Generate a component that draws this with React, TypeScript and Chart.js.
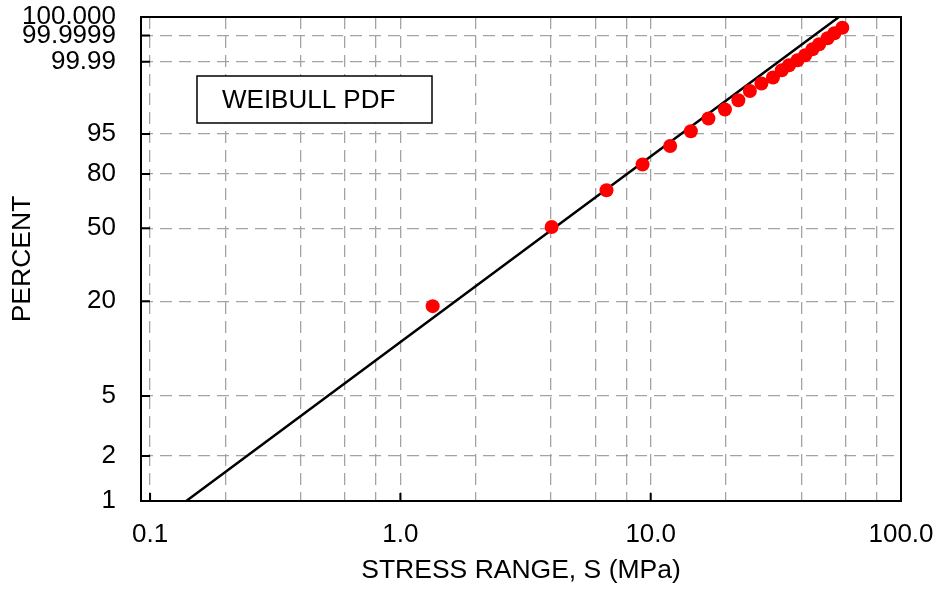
import React, { useEffect, useRef } from 'react';
import { Chart, registerables } from 'chart.js';

Chart.register(...registerables);

// Observed data (stress range in MPa, cumulative percent)
const stressRange = [1.346, 4.02, 6.66, 9.28, 11.96, 14.47, 17.01, 19.8, 22.4, 24.9, 27.7, 30.8, 33.4, 35.7, 38.6, 41.4, 44.3, 47.1, 50.9, 54.2, 58.3];
const cumulativePercent = [18.7, 50.7, 71.4, 84.5, 91.7, 95.6, 97.78, 98.747, 99.365, 99.711, 99.858, 99.925, 99.9684, 99.9835, 99.9918, 99.9962, 99.99859, 99.99943, 99.999824, 99.99994, 99.999983];

// Fitted Weibull line (read endpoints)
const fitStress = [0.1395, 4.1, 56.5];
const fitPercent = [1, 50, 99.999999];

// Axis ticks
const yTickPercent = [1, 2, 5, 20, 50, 80, 95, 99.99, 99.9999, 99.999999];
const yTickLabels = ['1', '2', '5', '20', '50', '80', '95', '99.99', '99.9999', '100.000'];
const xGridValues = [0.1, 0.2, 0.4, 0.6, 0.8, 1, 2, 4, 6, 8, 10, 20, 40, 60, 80, 100];
const xMajorValues = [0.1, 1, 10, 100];
const xMajorLabels = ['0.1', '1.0', '10.0', '100.0'];
const xMin = 0.092;
const xMax = 100;

const legendText = 'WEIBULL PDF';
const xTitle = 'STRESS RANGE, S (MPa)';
const yTitle = 'PERCENT';

const FONT = '"Liberation Sans", Arial, sans-serif';

const weibullY = (pct: number) => Math.log(-Math.log(1 - pct / 100));

const framePlugin = {
  id: 'frameAndLegend',
  afterDatasetsDraw(chart: any) {
    const { ctx, chartArea: a } = chart;
    ctx.save();
    const bx = a.left + 56;
    const by = a.top + 59;
    const bw = 235;
    const bh = 47;
    ctx.fillStyle = '#fff';
    ctx.fillRect(bx, by, bw, bh);
    ctx.strokeStyle = '#000';
    ctx.lineWidth = 1.5;
    ctx.strokeRect(bx, by, bw, bh);
    ctx.fillStyle = '#000';
    ctx.font = `26px ${FONT}`;
    ctx.textBaseline = 'middle';
    ctx.textAlign = 'left';
    ctx.fillText(legendText, bx + 25, by + bh / 2 + 1);
    ctx.restore();
  },
  afterDraw(chart: any) {
    const { ctx, chartArea: a, scales } = chart;
    ctx.save();
    ctx.strokeStyle = '#000';
    ctx.lineWidth = 2;
    ctx.beginPath();
    yTickPercent.forEach((p) => {
      const py = scales.y.getPixelForValue(weibullY(p));
      ctx.moveTo(a.left, py);
      ctx.lineTo(a.left + 9, py);
    });
    xMajorValues.forEach((v) => {
      const px = scales.x.getPixelForValue(v);
      ctx.moveTo(px, a.bottom);
      ctx.lineTo(px, a.bottom - 8);
    });
    ctx.stroke();
    ctx.lineWidth = 2;
    ctx.strokeRect(a.left, a.top, a.right - a.left, a.bottom - a.top);
    ctx.restore();
  },
};

const zeroPadding = (scale: any) => {
  scale.paddingTop = 0;
  scale.paddingBottom = 0;
  scale.paddingLeft = 0;
  scale.paddingRight = 0;
};

export default function App() {
  const canvasRef = useRef<HTMLCanvasElement | null>(null);

  useEffect(() => {
    if (!canvasRef.current) return;
    Chart.defaults.font.family = FONT;
    Chart.defaults.color = '#000';
    const gridStyle = { color: '#a3a3a3', lineWidth: 1.3, drawTicks: false };
    const borderStyle = { display: false, dash: [12, 7] };
    const chart = new Chart(canvasRef.current, {
      type: 'scatter',
      data: {
        datasets: [
          {
            label: 'Data',
            data: stressRange.map((x, i) => ({ x, y: weibullY(cumulativePercent[i]) })),
            backgroundColor: '#ff0000',
            borderColor: '#ff0000',
            pointRadius: 7,
            pointBorderWidth: 0,
            showLine: false,
          },
          {
            label: 'Fit',
            data: fitStress.map((x, i) => ({ x, y: weibullY(fitPercent[i]) })),
            borderColor: '#000',
            borderWidth: 2.5,
            pointRadius: 0,
            showLine: true,
          },
        ],
      },
      options: {
        animation: false,
        responsive: false,
        devicePixelRatio: 1,
        layout: { padding: { top: 17, right: 40, bottom: 0, left: 0 } },
        plugins: {
          legend: { display: false },
          tooltip: { enabled: false },
        },
        scales: {
          x: {
            type: 'logarithmic',
            min: xMin,
            max: xMax,
            afterBuildTicks: (scale: any) => {
              scale.ticks = xGridValues.map((v) => ({ value: v }));
            },
            afterFit: (scale: any) => {
              scale.height = 93;
              zeroPadding(scale);
            },
            ticks: {
              autoSkip: false,
              maxRotation: 0,
              padding: 18,
              font: { size: 26 },
              color: '#000',
              callback: (value: any) => {
                const idx = xMajorValues.findIndex((m) => Math.abs(m - value) < 1e-9);
                return idx >= 0 ? xMajorLabels[idx] : '';
              },
            },
            grid: gridStyle,
            border: borderStyle,
            title: {
              display: true,
              text: xTitle,
              font: { size: 26.5 },
              color: '#000',
              padding: { top: 0, bottom: 7 },
            },
          },
          y: {
            type: 'linear',
            min: weibullY(yTickPercent[0]),
            max: weibullY(yTickPercent[yTickPercent.length - 1]),
            afterBuildTicks: (scale: any) => {
              scale.ticks = yTickPercent.map((p) => ({ value: weibullY(p) }));
            },
            afterFit: (scale: any) => {
              scale.width = 141;
              zeroPadding(scale);
            },
            ticks: {
              autoSkip: false,
              padding: 25,
              font: { size: 26 },
              color: '#000',
              callback: (_v: any, index: number) => yTickLabels[index],
            },
            grid: gridStyle,
            border: borderStyle,
            title: {
              display: true,
              text: yTitle,
              font: { size: 26.5 },
              color: '#000',
              padding: { top: 7, bottom: 0 },
            },
          },
        },
      },
      plugins: [framePlugin],
    });
    return () => chart.destroy();
  }, []);

  return (
    <div style={{ position: 'absolute', left: 0, top: 0, width: 941, height: 594, background: '#fff' }}>
      <canvas ref={canvasRef} width={941} height={594} style={{ display: 'block' }} />
    </div>
  );
}
